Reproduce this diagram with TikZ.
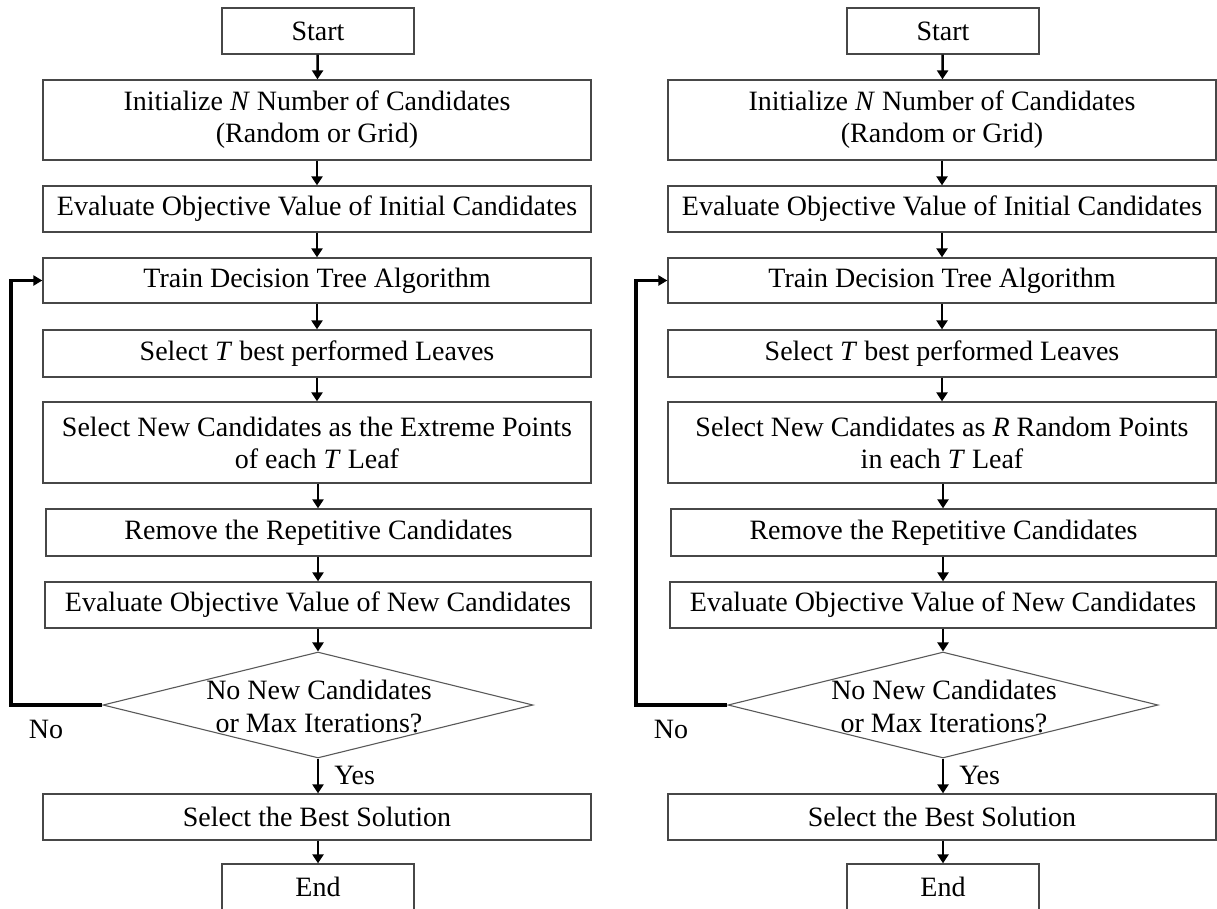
\documentclass[tikz,border=0pt]{standalone}
\usepackage{fontspec}
\setmainfont{Liberation Serif}
\usetikzlibrary{shapes.geometric,arrows.meta}

\tikzset{
  txt/.style={font=\fontsize{28}{32}\selectfont},
  stepbox/.style={txt, rectangle, draw=black!72, line width=1.3pt,
    minimum width=548pt, inner sep=0pt, align=center},
  termbox/.style={stepbox, minimum width=192pt},
  decision/.style={diamond, draw=black!65, line width=1.1pt,
    minimum width=430pt, minimum height=106pt, inner sep=0pt},
  flow/.style={line width=2.5pt, -{Triangle[length=9pt,width=11pt]}},
  back/.style={line width=3.2pt, -{Triangle[length=9pt,width=10pt]}},
  lbl/.style={txt, inner sep=0pt},
}

% One flowchart; #1 name prefix, #2 horizontal shift,
% #3/#4 the two lines of the candidate-selection step
\newcommand\drawchart[4]{%
\begin{scope}[xshift=#2]
  \node[termbox, minimum height=46pt] (#1start) at (318,31) {Start};
  \node[stepbox, minimum height=80pt] (#1init) at (317,120)
    {Initialize \textit{N} Number of Candidates\\(Random or Grid)};
  \node[stepbox, minimum height=46pt] (#1evali) at (317,209)
    {Evaluate Objective Value of Initial Candidates};
  \node[stepbox, minimum height=45pt] (#1train) at (317,280.5)
    {Train Decision Tree Algorithm};
  \node[stepbox, minimum height=47pt] (#1selt) at (317,353.5)
    {Select \textit{T} best performed Leaves};
  \node[stepbox, minimum height=81pt] (#1seln) at (317,442.5)
    {#3\\#4};
  \node[stepbox, minimum height=47pt, minimum width=545pt] (#1rem) at (318.5,532.5)
    {Remove the Repetitive Candidates};
  \node[stepbox, minimum height=46pt, minimum width=546pt] (#1evaln) at (318,605)
    {Evaluate Objective Value of New Candidates};
  \node[decision] (#1dec) at (318,705) {};
  \node[lbl, align=center, font=\fontsize{28}{33}\selectfont] (#1dect) at (319,706)
    {No New Candidates\\or Max Iterations?};
  \node[stepbox, minimum height=46pt] (#1best) at (317,817)
    {Select the Best Solution};
  \node[termbox, minimum height=46pt] (#1end) at (318,887) {End};

  \draw[flow] (#1start) -- (#1init);
  \draw[flow] (#1init) -- (#1evali);
  \draw[flow] (#1evali) -- (#1train);
  \draw[flow] (#1train) -- (#1selt);
  \draw[flow] (#1selt) -- (#1seln);
  \draw[flow] (#1seln.south -| #1dec) -- (#1rem.north -| #1dec);
  \draw[flow] (#1rem.south -| #1dec) -- (#1evaln.north -| #1dec);
  \draw[flow] (#1evaln.south -| #1dec) -- (#1dec.north);
  \draw[flow] (#1dec.south) -- node[lbl, right=15pt] (#1yes) {Yes} (#1best.north -| #1dec);
  \draw[flow] (#1best.south -| #1dec) -- (#1end.north);

  \coordinate (#1corner) at (11,705);
  \draw[back] (#1dec.west) -- (#1corner) |- (#1train.west);
  \node[lbl] (#1no) at (46,729) {No};
\end{scope}}

\begin{document}
\begin{tikzpicture}[x=1pt, y=-1pt]
  \useasboundingbox (0,0) rectangle (1217,908);
  \clip (0,0) rectangle (1217,908);
  \drawchart{L}{0pt}{Select New Candidates as the Extreme Points}{of each \textit{T} Leaf}
  \drawchart{R}{625pt}{Select New Candidates as \textit{R} Random Points}{in each \textit{T} Leaf}
\end{tikzpicture}
\end{document}
